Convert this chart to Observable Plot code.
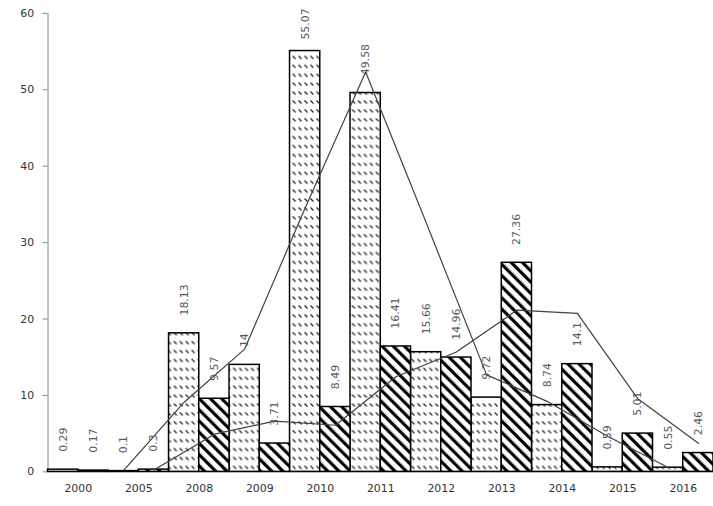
<!DOCTYPE html>
<html>
<head>
<meta charset="utf-8">
<script src="https://cdn.jsdelivr.net/npm/d3@7"></script>
<script src="https://cdn.jsdelivr.net/npm/@observablehq/plot@0.6"></script>
<style>
  html, body { margin: 0; padding: 0; background: #fff; overflow: hidden; }
  #chart svg { display: block; }
</style>
</head>
<body>
<div id="chart"></div>
<script>
const years = ["2000","2005","2008","2009","2010","2011","2012","2013","2014","2015","2016"];
const seriesA = [0.29, 0.1, 18.13, 14, 55.07, 49.58, 15.66, 9.72, 8.74, 0.59, 0.55];
const seriesB = [0.17, 0.3, 9.57, 3.71, 8.49, 16.41, 14.96, 27.36, 14.1, 5.01, 2.46];
const yTicks = [0, 10, 20, 30, 40, 50, 60];

// build table: each year is two slots on an index axis (A then B)
const rowsA = years.map((year, i) => ({year, series: "A", value: seriesA[i], x1: 2 * i, x2: 2 * i + 1, xc: 2 * i + 0.5}));
const rowsB = years.map((year, i) => ({year, series: "B", value: seriesB[i], x1: 2 * i + 1, x2: 2 * i + 2, xc: 2 * i + 1.5}));
const rows = rowsA.concat(rowsB);

const chart = Plot.plot({
  width: 720,
  height: 506,
  marginLeft: 48,
  marginRight: 0,
  marginTop: 13,
  marginBottom: 30,
  style: {fontFamily: "DejaVu Sans, sans-serif", fontSize: "11px", background: "#fff"},
  x: {domain: [0, years.length * 2], axis: null},
  y: {domain: [0, 60], axis: null},
  marks: [
    Plot.ruleY([0], {stroke: "#868686", strokeWidth: 1}),
    Plot.ruleX([0], {y1: 0, y2: 60, stroke: "#868686", strokeWidth: 1}),
    Plot.axisY({ticks: yTicks, tickSize: 5, tickPadding: 9, stroke: "#868686", fill: "#333", fontSize: 11, label: null}),
    Plot.axisX({ticks: years.map((_, i) => 2 * i + 1), tickFormat: v => years[(v - 1) / 2], tickSize: 0, tickPadding: 13, fill: "#333", fontSize: 11, label: null}),
    Plot.rectY(rowsA, {x1: "x1", x2: "x2", y: "value", fill: "url(#patA)", stroke: "#000", strokeWidth: 1.5}),
    Plot.rectY(rowsB, {x1: "x1", x2: "x2", y: "value", fill: "url(#patB)", stroke: "#000", strokeWidth: 1.5}),
    Plot.lineY(rowsA, Plot.windowY({k: 2, anchor: "end", strict: true, reduce: "mean"}, {x: "xc", y: "value", stroke: "#404040", strokeWidth: 1.2})),
    Plot.lineY(rowsB, Plot.windowY({k: 2, anchor: "end", strict: true, reduce: "mean"}, {x: "xc", y: "value", stroke: "#404040", strokeWidth: 1.2})),
    Plot.text(rows.filter(d => d.value < 52), {x: "xc", y: "value", text: d => String(d.value), rotate: -90, textAnchor: "start", lineAnchor: "middle", dy: -18, fill: "#595959", fontSize: 11}),
    Plot.text(rows.filter(d => d.value >= 52), {x: "xc", frameAnchor: "top", text: d => String(d.value), rotate: -90, textAnchor: "end", lineAnchor: "middle", dy: -5, fill: "#595959", fontSize: 11})
  ]
});

const svg = d3.select(chart);
const defs = svg.insert("defs", ":first-child");
const pA = defs.append("pattern").attr("id", "patA").attr("patternUnits", "userSpaceOnUse")
  .attr("width", 6).attr("height", 9);
pA.append("rect").attr("width", 6).attr("height", 9).attr("fill", "#fff");
pA.append("path").attr("d", "M1.5,2.5 L4.5,5.5").attr("stroke", "#222").attr("stroke-width", 1.3);
const pB = defs.append("pattern").attr("id", "patB").attr("patternUnits", "userSpaceOnUse")
  .attr("width", 8).attr("height", 8).attr("patternTransform", "rotate(-45)");
pB.append("rect").attr("width", 8).attr("height", 8).attr("fill", "#fff");
pB.append("rect").attr("width", 3.2).attr("height", 8).attr("fill", "#000");

document.getElementById("chart").appendChild(chart);
</script>
</body>
</html>
